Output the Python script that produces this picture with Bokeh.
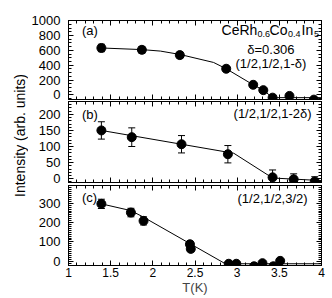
import math
from bokeh.plotting import figure
from bokeh.models import (ColumnDataSource, Whisker, TeeHead, LinearAxis, Range1d,
                          SingleIntervalTicker, Label, CustomJSTickFormatter)
from bokeh.layouts import column, row
from bokeh.embed import file_html
from bokeh.resources import INLINE

FONT = "Liberation Sans"

# ---- data ----
# panel (a): (1/2,1/2,1-delta)
T_a = [1.39, 1.87, 2.32, 2.87, 3.19, 3.31, 3.42, 3.62, 3.91]
I_a = [632, 607, 536, 352, 136, 64, -37, -14, -64]
E_a = [50, 45, 40, 30, 20, 20, 20, 20, 20]
fitT_a = [1.39, 1.87, 2.09, 2.32, 2.72, 2.87, 3.19, 3.31, 3.42, 4.0]
fitI_a = [632, 610, 590, 545, 437, 352, 136, 64, -37, -37]

# panel (b): (1/2,1/2,1-2delta)
T_b = [1.39, 1.75, 2.34, 2.89, 3.42, 3.67, 3.92]
I_b = [150, 129, 107, 76, 4, -2, -9]
E_b = [27, 29, 27, 27, 23, 17, 15]
fitT_b = [1.39, 2.96, 3.42, 4.0]
fitI_b = [150, 79, 2, -6]

# panel (c): (1/2,1/2,3/2)
T_c = [1.39, 1.74, 1.89, 2.44, 2.45, 2.90, 2.99, 3.20, 3.30, 3.43, 3.51]
I_c = [297, 252, 209, 88, 64, -13, -13, -26, -10, -26, 2]
E_c = [24, 22, 21, 15, 15, 8, 8, 8, 8, 8, 10]
fitT_c = [1.39, 1.74, 1.89, 2.86, 4.0]
fitI_c = [297, 262, 228, -13, -13]

x_ticks_interval = 0.5
yranges = {"a": (-62, 1002), "b": (-12, 240), "c": (-22, 392)}
yticks = {"a": (200, 4), "b": (50, 5), "c": (100, 10)}

xr = Range1d(1, 4)


def style_axis(ax, show_labels, size="12px", standoff=6):
    ax.axis_line_color = "black"
    ax.major_tick_in = 5
    ax.major_tick_out = 0
    ax.minor_tick_in = 3
    ax.minor_tick_out = 0
    ax.major_tick_line_color = "black"
    ax.minor_tick_line_color = "black"
    ax.major_label_text_font = FONT
    ax.major_label_text_color = "black"
    if show_labels:
        ax.major_label_text_font_size = size
        ax.major_label_standoff = standoff
    else:
        ax.formatter = CustomJSTickFormatter(code="return ''")
        ax.major_label_text_font_size = "1px"
        ax.major_label_standoff = 0


def make_panel(key, T, I, E, fT, fI, height, top, bottom, xlabels=False):
    p = figure(x_range=xr, y_range=Range1d(*yranges[key]),
               width=298, height=height,
               output_backend="svg", toolbar_location=None,
               x_axis_location=None, y_axis_location=None,
               min_border_left=38, min_border_right=5,
               min_border_top=top, min_border_bottom=bottom,
               background_fill_color="white", border_fill_color="white")
    p.outline_line_color = "black"
    p.grid.visible = False
    iv, nm = yticks[key]
    for loc, lab in (("left", True), ("right", False)):
        ax = LinearAxis(ticker=SingleIntervalTicker(interval=iv, num_minor_ticks=nm))
        style_axis(ax, lab, size="13px", standoff=8)
        p.add_layout(ax, loc)
    for loc, lab in (("below", xlabels), ("above", False)):
        ax = LinearAxis(ticker=SingleIntervalTicker(interval=x_ticks_interval, num_minor_ticks=5))
        style_axis(ax, lab, size="12px", standoff=2)
        if lab:
            ax.axis_label = "T(K)"
            ax.axis_label_text_font = FONT
            ax.axis_label_text_font_size = "13px"
            ax.axis_label_text_font_style = "normal"
            ax.axis_label_standoff = 0
        p.add_layout(ax, loc)

    p.line(fT, fI, line_color="black", line_width=1)
    src = ColumnDataSource(dict(T=T, I=I, up=[i + e for i, e in zip(I, E)],
                                lo=[i - e for i, e in zip(I, E)]))
    w = Whisker(source=src, base="T", upper="up", lower="lo", dimension="height",
                line_color="black", line_width=1,
                upper_head=TeeHead(size=7, line_color="black", line_width=1),
                lower_head=TeeHead(size=7, line_color="black", line_width=1))
    p.add_layout(w)
    p.scatter("T", "I", source=src, size=9, color="black")
    return p


pa = make_panel("a", T_a, I_a, E_a, fitT_a, fitI_a, 101, 20, 2)
pb = make_panel("b", T_b, I_b, E_b, fitT_b, fitI_b, 84, 0, 3)
pc = make_panel("c", T_c, I_c, E_c, fitT_c, fitI_c, 113, 0, 33, xlabels=True)


def lab(p, x, y, text, size="13px", align="left"):
    p.add_layout(Label(x=x, y=y, text=text, text_font=FONT, text_font_size=size,
                       text_align=align, text_baseline="middle", text_color="black"))


lab(pa, 1.16, 867, "(a)")
# CeRh0.6Co0.4In5 with subscripts
x0 = 2.815
for txt, off, sub in (("CeRh", 0, False), ("0.6", 36, True), ("Co", 48, False),
                      ("0.4", 66.5, True), ("In", 80, False), ("5", 92.5, True)):
    pa.add_layout(Label(x=x0, y=(815 if sub else 877), x_offset=off, text=txt,
                        text_font=FONT, text_font_size=("9px" if sub else "14px"),
                        text_align="left", text_baseline="middle", text_color="black"))
lab(pa, 3.4, 607, "δ=0.306", align="center")
lab(pa, 3.4, 419, "(1/2,1/2,1-δ)", align="center")

lab(pb, 1.16, 200, "(b)")
lab(pb, 3.42, 204, "(1/2,1/2,1-2δ)", align="center")

lab(pc, 1.16, 330, "(c)")
lab(pc, 3.42, 325, "(1/2,1/2,3/2)", align="center")

# narrow strip holding the shared y-axis title
ylab = figure(width=28, height=298, x_range=Range1d(0, 1), y_range=Range1d(0, 1),
              output_backend="svg", toolbar_location=None,
              x_axis_location=None, y_axis_location=None, min_border=0,
              background_fill_color="white", border_fill_color="white")
ylab.outline_line_color = None
ylab.grid.visible = False
ylab.add_layout(Label(x=0.68, y=0.547, text="Intensity (arb. units)", angle=math.pi / 2,
                      text_font=FONT, text_font_size="14px", text_align="center",
                      text_baseline="middle", text_color="black"))

layout = row(ylab, column(pa, pb, pc, spacing=0), spacing=0)
open("out.html", "w").write(file_html(layout, INLINE))
